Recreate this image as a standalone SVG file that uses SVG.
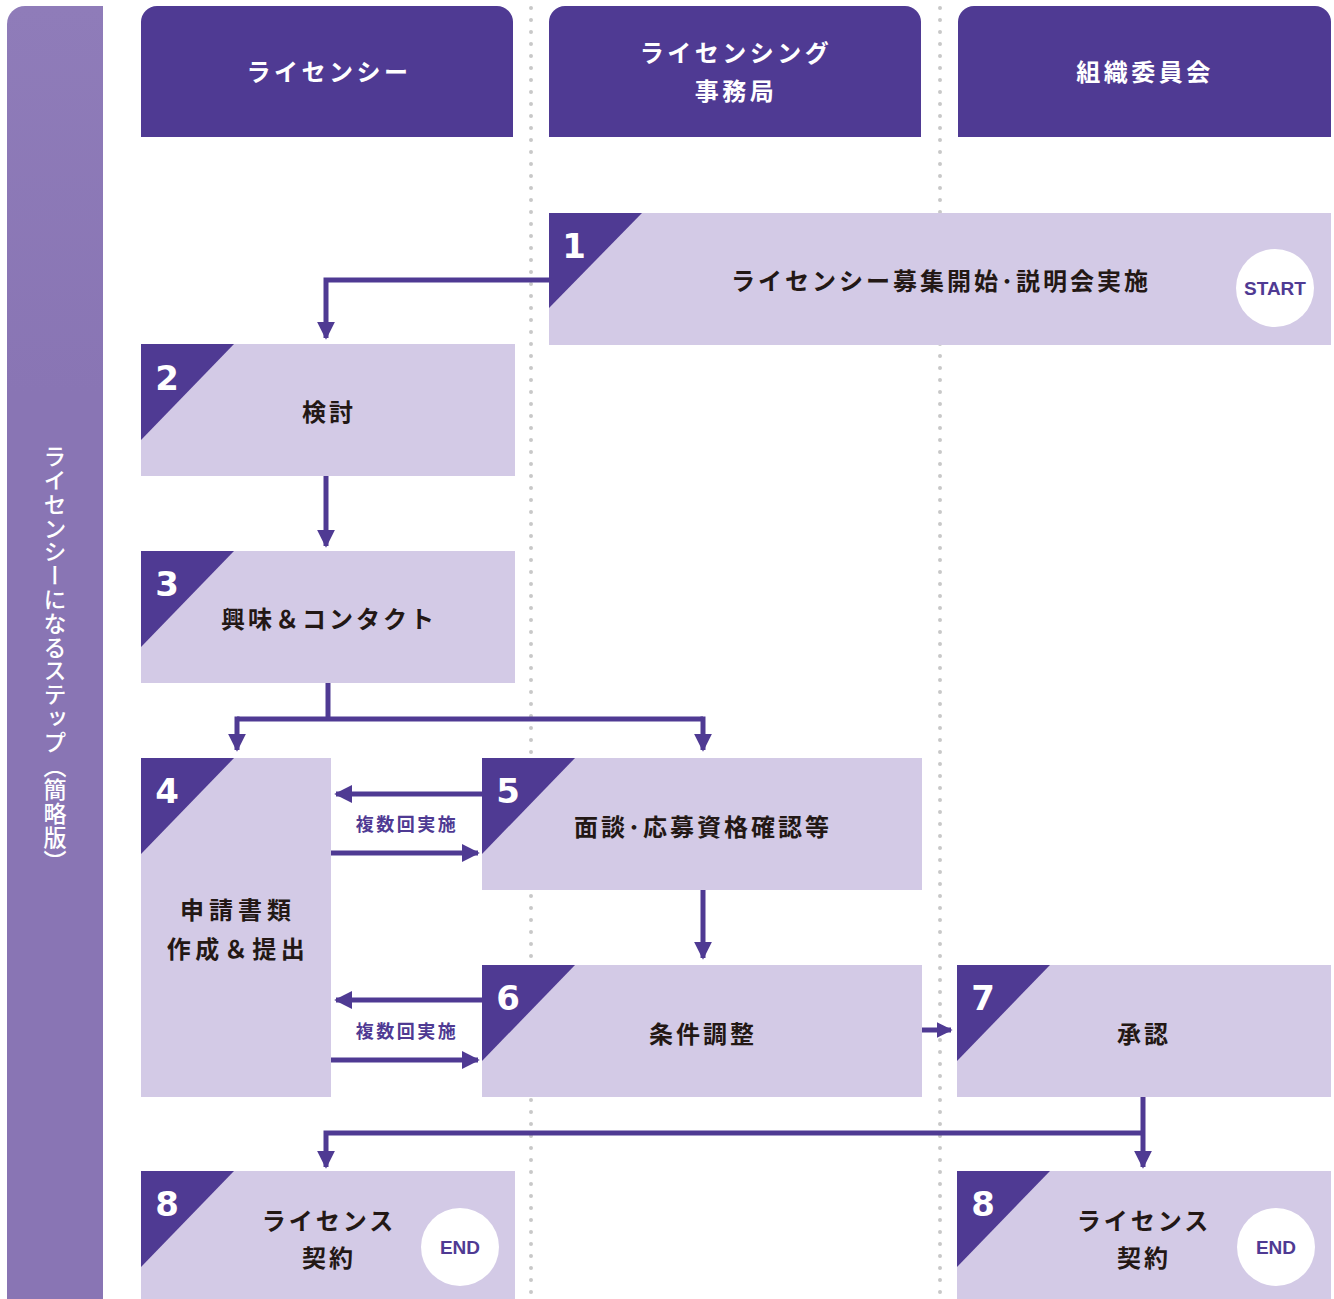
<svg xmlns="http://www.w3.org/2000/svg" width="1334" height="1299" viewBox="0 0 1334 1299">
<defs>
<linearGradient id="side" x1="0" y1="0" x2="0" y2="1">
<stop offset="0" stop-color="#8f7cb9"/>
<stop offset="0.3" stop-color="#8975b4"/>
<stop offset="1" stop-color="#8975b4"/>
</linearGradient>
<marker id="ah" viewBox="0 0 10 10" refX="9" refY="5" markerWidth="3.6" markerHeight="3.6" markerUnits="strokeWidth" orient="auto">
<path d="M0,0 L10,5 L0,10 z" fill="#4f3a93"/>
</marker>
<marker id="ahs" viewBox="0 0 10 10" refX="9" refY="5" markerWidth="3.2" markerHeight="3.2" markerUnits="strokeWidth" orient="auto">
<path d="M0,0 L10,5 L0,10 z" fill="#4f3a93"/>
</marker>
</defs>
<style>
.hdr{fill:#4f3a93}
.htx{fill:#fff;font-family:"Noto Sans CJK JP","Noto Sans",sans-serif;font-weight:700;font-size:24px;text-anchor:middle;letter-spacing:3.5px}
.box{fill:#d3cae6}
.tri{fill:#4f3a93}
.num{fill:#fff;font-family:"DejaVu Sans","Liberation Sans",sans-serif;font-weight:700;font-size:34px;text-anchor:middle}
.lbl{fill:#231815;font-family:"Noto Sans CJK JP","Noto Sans",sans-serif;font-weight:700;font-size:24px;text-anchor:middle;letter-spacing:3px}
.circ{fill:#fff}
.ctx{fill:#4f3a93;font-family:"Liberation Sans","DejaVu Sans",sans-serif;font-weight:700;font-size:19px;text-anchor:middle}
.con{fill:none;stroke:#4f3a93;stroke-width:5}
.sm{fill:#4f3a93;font-family:"Noto Sans CJK JP","Noto Sans",sans-serif;font-weight:700;font-size:18px;text-anchor:middle;letter-spacing:2.5px}
.dot{stroke:#c8c8c8;stroke-width:4;stroke-linecap:round;stroke-dasharray:0 12}
</style>
<rect width="1334" height="1299" fill="#fff"/>
<g id="sidebar">
<path d="M7,1299 V24 A18,18 0 0 1 25,6 H103 V1299 Z" fill="url(#side)"/>
<text x="55" y="445" fill="#fff" font-family="Noto Sans CJK JP,sans-serif" font-weight="500" font-size="23" style="writing-mode:vertical-rl" letter-spacing="0.8">ライセンシーになるステップ（簡略版）</text>
</g>
<g id="lanes">
<line class="dot" x1="531" y1="8" x2="531" y2="1299"/>
<line class="dot" x1="940" y1="8" x2="940" y2="1299"/>
</g>
<g id="header-licensee">
<path class="hdr" d="M141,137 V22 A16,16 0 0 1 157,6 H497 A16,16 0 0 1 513,22 V137 Z"/>
<text class="htx" x="329" y="81">ライセンシー</text>
</g>
<g id="header-office">
<path class="hdr" d="M549,137 V22 A16,16 0 0 1 565,6 H905 A16,16 0 0 1 921,22 V137 Z"/>
<text class="htx" x="736" y="62">ライセンシング</text>
<text class="htx" x="736" y="100">事務局</text>
</g>
<g id="header-committee">
<path class="hdr" d="M958,137 V22 A16,16 0 0 1 974,6 H1315 A16,16 0 0 1 1331,22 V137 Z"/>
<text class="htx" x="1145" y="81">組織委員会</text>
</g>
<g id="connectors">
<polyline class="con" points="549,280 326,280 326,338" marker-end="url(#ah)"/>
<polyline class="con" points="326,476 326,546" marker-end="url(#ah)"/>
<polyline class="con" points="328,683 328,719"/>
<polyline class="con" points="237,719 703,719"/>
<polyline class="con" points="237,716.5 237,750" marker-end="url(#ah)"/>
<polyline class="con" points="703,716.5 703,750" marker-end="url(#ah)"/>
<polyline class="con" points="482,794 336,794" marker-end="url(#ah)"/>
<polyline class="con" points="331,853 478,853" marker-end="url(#ah)"/>
<polyline class="con" points="703,890 703,958" marker-end="url(#ah)"/>
<polyline class="con" points="482,1000 336,1000" marker-end="url(#ah)"/>
<polyline class="con" points="331,1060 478,1060" marker-end="url(#ah)"/>
<polyline class="con" points="922,1030 951,1030" marker-end="url(#ahs)"/>
<polyline class="con" points="1143,1097 1143,1167" marker-end="url(#ah)"/>
<polyline class="con" points="1143,1133 326,1133 326,1167" marker-end="url(#ah)"/>
<text class="sm" x="407" y="831">複数回実施</text>
<text class="sm" x="407" y="1038">複数回実施</text>
</g>
<g id="node1">
<rect class="box" x="549" y="213" width="782" height="132"/>
<path class="tri" d="M549,213 H642 L549,308 Z"/>
<text class="num" x="574" y="258">1</text>
<text class="lbl" x="941" y="290">ライセンシー募集開始･説明会実施</text>
<circle class="circ" cx="1275" cy="288" r="39"/>
<text class="ctx" x="1275" y="295">START</text>
</g>
<g id="node2">
<rect class="box" x="141" y="344" width="374" height="132"/>
<path class="tri" d="M141,344 H234 L141,440 Z"/>
<text class="num" x="167" y="390">2</text>
<text class="lbl" x="329" y="421">検討</text>
</g>
<g id="node3">
<rect class="box" x="141" y="551" width="374" height="132"/>
<path class="tri" d="M141,551 H234 L141,647 Z"/>
<text class="num" x="167" y="596">3</text>
<text class="lbl" x="329" y="628">興味＆コンタクト</text>
</g>
<g id="node4">
<rect class="box" x="141" y="758" width="190" height="339"/>
<path class="tri" d="M141,758 H234 L141,854 Z"/>
<text class="num" x="167" y="803">4</text>
<text class="lbl" x="238" y="919" style="letter-spacing:5px">申請書類</text>
<text class="lbl" x="238" y="958" style="letter-spacing:4.5px">作成＆提出</text>
</g>
<g id="node5">
<rect class="box" x="482" y="758" width="440" height="132"/>
<path class="tri" d="M482,758 H575 L482,854 Z"/>
<text class="num" x="508" y="803">5</text>
<text class="lbl" x="703" y="836">面談･応募資格確認等</text>
</g>
<g id="node6">
<rect class="box" x="482" y="965" width="440" height="132"/>
<path class="tri" d="M482,965 H575 L482,1061 Z"/>
<text class="num" x="508" y="1010">6</text>
<text class="lbl" x="703" y="1043">条件調整</text>
</g>
<g id="node7">
<rect class="box" x="957" y="965" width="374" height="132"/>
<path class="tri" d="M957,965 H1050 L957,1061 Z"/>
<text class="num" x="983" y="1010">7</text>
<text class="lbl" x="1144" y="1043">承認</text>
</g>
<g id="node8a">
<rect class="box" x="141" y="1171" width="374" height="128"/>
<path class="tri" d="M141,1171 H234 L141,1267 Z"/>
<text class="num" x="167" y="1216">8</text>
<text class="lbl" x="329" y="1230">ライセンス</text>
<text class="lbl" x="329" y="1267">契約</text>
<circle class="circ" cx="460" cy="1247" r="39"/>
<text class="ctx" x="460" y="1254">END</text>
</g>
<g id="node8b">
<rect class="box" x="957" y="1171" width="374" height="128"/>
<path class="tri" d="M957,1171 H1050 L957,1267 Z"/>
<text class="num" x="983" y="1216">8</text>
<text class="lbl" x="1144" y="1230">ライセンス</text>
<text class="lbl" x="1144" y="1267">契約</text>
<circle class="circ" cx="1276" cy="1247" r="39"/>
<text class="ctx" x="1276" y="1254">END</text>
</g>
</svg>
